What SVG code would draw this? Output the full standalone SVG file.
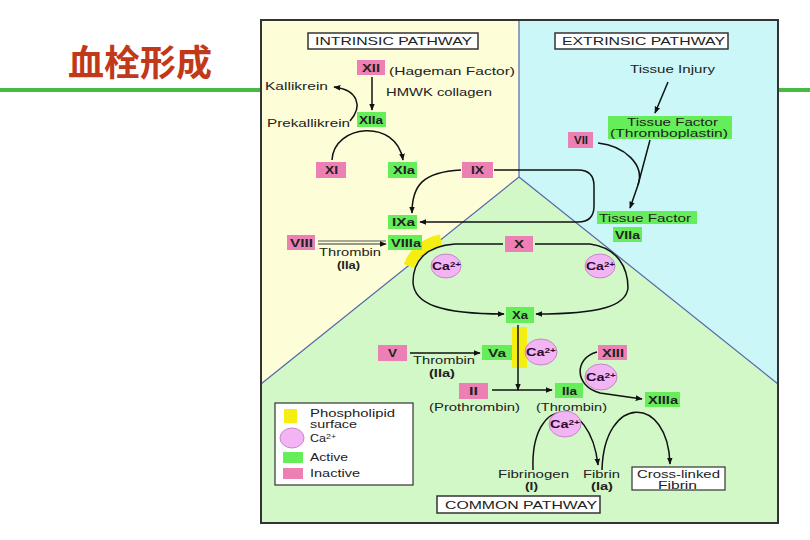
<svg xmlns="http://www.w3.org/2000/svg" width="810" height="540" viewBox="0 0 810 540">
<defs>
<marker id="ah" viewBox="0 0 10 10" refX="9" refY="5" markerWidth="7" markerHeight="7" orient="auto" markerUnits="userSpaceOnUse">
<path d="M0,1 L10,5 L0,9 Z" fill="#111"/>
</marker>
<style>
text{font-family:"Liberation Sans",Arial,sans-serif;font-size:11.5px;fill:#222}
.b{font-weight:bold}
.pk{fill:#ec80b4}
.gn{fill:#66ee5a}
.ca{fill:#f2b4f2;stroke:#c486c8;stroke-width:1}
.c{fill:none;stroke:#111;stroke-width:1.5}
.hdr{fill:#fff;stroke:#333;stroke-width:1.5}
.sup{font-size:8px}
.cat{font-weight:bold;font-size:11.5px;fill:#2a0a30}
</style>
</defs>
<rect width="810" height="540" fill="#fff"/>
<text x="68" y="76" textLength="144" lengthAdjust="spacingAndGlyphs" style="font-family:'Noto Sans CJK SC',sans-serif;font-size:36px;font-weight:bold;fill:#c2391a">血栓形成</text>
<line x1="0" y1="90" x2="262" y2="90" stroke="#45bb45" stroke-width="4"/>
<line x1="778" y1="90" x2="810" y2="90" stroke="#45bb45" stroke-width="4"/>

<g id="panel">
<polygon points="261,20 519,20 519,177 261,384" fill="#fdfdd8"/>
<polygon points="519,20 778,20 778,384 519,177" fill="#ccf7f9"/>
<polygon points="261,384 519,177 778,384 778,523 261,523" fill="#d2f8c8"/>
<polyline points="519,20 519,177 261,384" fill="none" stroke="#5566aa" stroke-width="1.2"/>
<line x1="519" y1="177" x2="778" y2="384" stroke="#5566aa" stroke-width="1.2"/>
<rect x="261" y="20" width="517" height="503" fill="none" stroke="#333" stroke-width="2"/>
</g>

<g id="phospholipid">
<path d="M409,266 C414,252 426,243 441,240" fill="none" stroke="#f5ee10" stroke-width="11"/>
<rect x="512" y="327" width="15" height="41" fill="#f5ee10"/>
</g>

<g id="connectors">
<line x1="372" y1="77" x2="372" y2="110" class="c" marker-end="url(#ah)"/>
<path d="M350,121 C363,106 358,90 334,87" class="c" marker-end="url(#ah)"/>
<path d="M332,160 C334,124 396,118 403,160" class="c" marker-end="url(#ah)"/>
<path d="M461,170 C422,172 412,186 412,213" class="c" marker-end="url(#ah)"/>
<path d="M494,170 L578,170 Q594,170 594,186 L594,206 Q594,222 578,222 L420,222" class="c" marker-end="url(#ah)"/>
<line x1="318" y1="241" x2="386" y2="241" stroke="#555" stroke-width="1.2"/>
<line x1="318" y1="244" x2="386" y2="244" stroke="#333" stroke-width="1.2" marker-end="url(#ah)"/>
<path d="M503,244 L455,244 C425,246 413,262 413,282 C414,304 440,314 504,314" class="c" marker-end="url(#ah)"/>
<path d="M535,244 L590,244 C618,248 628,268 628,288 C626,306 600,314 536,314" class="c" marker-end="url(#ah)"/>
<line x1="410" y1="353" x2="480" y2="353" class="c" marker-end="url(#ah)"/>
<line x1="518" y1="325" x2="518" y2="390" class="c" marker-end="url(#ah)"/>
<line x1="492" y1="390" x2="552" y2="390" class="c" marker-end="url(#ah)"/>
<path d="M597,352 C574,358 574,386 600,393 L642,399" class="c" marker-end="url(#ah)"/>
<path d="M533,470 C530,394 590,394 598,465" class="c" marker-end="url(#ah)"/>
<path d="M602,470 C604,394 668,394 670,464" class="c" marker-end="url(#ah)"/>
<line x1="668" y1="82" x2="655" y2="113" class="c" marker-end="url(#ah)"/>
<path d="M650,140 L638,185" class="c"/>
<path d="M598,143 C625,146 645,165 638,185 L630,208" class="c" marker-end="url(#ah)"/>
</g>

<g id="intrinsic-header"><rect x="308" y="33" width="170" height="16" class="hdr"/><text x="315" y="45" textLength="157" lengthAdjust="spacingAndGlyphs">INTRINSIC PATHWAY</text></g>
<g id="extrinsic-header"><rect x="555" y="33" width="173" height="16" class="hdr"/><text x="562" y="45" textLength="163" lengthAdjust="spacingAndGlyphs">EXTRINSIC PATHWAY</text></g>
<g id="common-header"><rect x="437" y="496" width="163" height="17" class="hdr"/><text x="445" y="509" textLength="152" lengthAdjust="spacingAndGlyphs">COMMON PATHWAY</text></g>

<g id="XII"><rect x="357" y="60" width="28" height="15" class="pk"/><text x="362" y="72" class="b" textLength="18" lengthAdjust="spacingAndGlyphs">XII</text><text x="389" y="75" textLength="126" lengthAdjust="spacingAndGlyphs">(Hageman Factor)</text></g>
<g id="HMWK"><text x="386" y="96" textLength="106" lengthAdjust="spacingAndGlyphs">HMWK collagen</text></g>
<g id="XIIa"><rect x="357" y="112" width="29" height="15" class="gn"/><text x="359" y="124" class="b" textLength="24" lengthAdjust="spacingAndGlyphs">XIIa</text></g>
<g id="Kallikrein"><text x="265" y="90" textLength="63" lengthAdjust="spacingAndGlyphs">Kallikrein</text></g>
<g id="Prekallikrein"><text x="267" y="127" textLength="83" lengthAdjust="spacingAndGlyphs">Prekallikrein</text></g>
<g id="XI"><rect x="316" y="162" width="30" height="16" class="pk"/><text x="325" y="174" class="b" textLength="13" lengthAdjust="spacingAndGlyphs">XI</text></g>
<g id="XIa"><rect x="388" y="162" width="29" height="16" class="gn"/><text x="393" y="174" class="b" textLength="22" lengthAdjust="spacingAndGlyphs">XIa</text></g>
<g id="IX"><rect x="462" y="162" width="31" height="16" class="pk"/><text x="471" y="174" class="b" textLength="13" lengthAdjust="spacingAndGlyphs">IX</text></g>
<g id="IXa"><rect x="388" y="215" width="29" height="14" class="gn"/><text x="392" y="226" class="b" textLength="23" lengthAdjust="spacingAndGlyphs">IXa</text></g>
<g id="VIIIa"><rect x="388" y="235" width="34" height="15" class="gn"/><text x="391" y="247" class="b" textLength="30" lengthAdjust="spacingAndGlyphs">VIIIa</text></g>
<g id="VIII"><rect x="287" y="235" width="28" height="15" class="pk"/><text x="290" y="247" class="b" textLength="23" lengthAdjust="spacingAndGlyphs">VIII</text></g>
<g id="thrombin1"><text x="319" y="256" textLength="62" lengthAdjust="spacingAndGlyphs">Thrombin</text><text x="337" y="269" class="b" textLength="23" lengthAdjust="spacingAndGlyphs">(IIa)</text></g>

<g id="X"><rect x="505" y="236" width="28" height="16" class="pk"/><text x="514" y="248" class="b" textLength="10" lengthAdjust="spacingAndGlyphs">X</text></g>
<g id="ca1"><ellipse cx="446" cy="266" rx="15" ry="12" class="ca"/><text x="432" y="270" class="cat" textLength="29" lengthAdjust="spacingAndGlyphs">Ca<tspan class="sup" dy="-3">2+</tspan></text></g>
<g id="ca2"><ellipse cx="600" cy="266" rx="15" ry="12" class="ca"/><text x="586" y="270" class="cat" textLength="29" lengthAdjust="spacingAndGlyphs">Ca<tspan class="sup" dy="-3">2+</tspan></text></g>
<g id="Xa"><rect x="506" y="307" width="28" height="16" class="gn"/><text x="512" y="319" class="b" textLength="16" lengthAdjust="spacingAndGlyphs">Xa</text></g>
<g id="V"><rect x="378" y="345" width="29" height="16" class="pk"/><text x="388" y="357" class="b" textLength="9" lengthAdjust="spacingAndGlyphs">V</text></g>
<g id="thrombin2"><text x="413" y="364" textLength="62" lengthAdjust="spacingAndGlyphs">Thrombin</text><text x="429" y="377" class="b" textLength="26" lengthAdjust="spacingAndGlyphs">(IIa)</text></g>
<g id="Va"><rect x="482" y="345" width="30" height="15" class="gn"/><text x="488" y="357" class="b" textLength="18" lengthAdjust="spacingAndGlyphs">Va</text></g>
<g id="ca3"><ellipse cx="541" cy="352" rx="16" ry="13" class="ca"/><text x="526" y="356" class="cat" textLength="30" lengthAdjust="spacingAndGlyphs">Ca<tspan class="sup" dy="-3">2+</tspan></text></g>
<g id="II"><rect x="459" y="383" width="29" height="16" class="pk"/><text x="469" y="395" class="b" textLength="9" lengthAdjust="spacingAndGlyphs">II</text><text x="429" y="411" textLength="91" lengthAdjust="spacingAndGlyphs">(Prothrombin)</text></g>
<g id="IIa"><rect x="555" y="383" width="28" height="15" class="gn"/><text x="562" y="395" class="b" textLength="15" lengthAdjust="spacingAndGlyphs">IIa</text><text x="536" y="411" textLength="71" lengthAdjust="spacingAndGlyphs">(Thrombin)</text></g>
<g id="XIII"><rect x="598" y="345" width="29" height="15" class="pk"/><text x="602" y="357" class="b" textLength="22" lengthAdjust="spacingAndGlyphs">XIII</text></g>
<g id="ca4"><ellipse cx="601" cy="377" rx="16" ry="13" class="ca"/><text x="586" y="381" class="cat" textLength="30" lengthAdjust="spacingAndGlyphs">Ca<tspan class="sup" dy="-3">2+</tspan></text></g>
<g id="XIIIa"><rect x="645" y="392" width="35" height="15" class="gn"/><text x="648" y="404" class="b" textLength="30" lengthAdjust="spacingAndGlyphs">XIIIa</text></g>
<g id="ca5"><ellipse cx="565" cy="424" rx="16" ry="13" class="ca"/><text x="550" y="428" class="cat" textLength="30" lengthAdjust="spacingAndGlyphs">Ca<tspan class="sup" dy="-3">2+</tspan></text></g>
<g id="Fibrinogen"><text x="498" y="478" textLength="71" lengthAdjust="spacingAndGlyphs">Fibrinogen</text><text x="525" y="490" class="b" textLength="13" lengthAdjust="spacingAndGlyphs">(I)</text></g>
<g id="Fibrin"><text x="583" y="478" textLength="37" lengthAdjust="spacingAndGlyphs">Fibrin</text><text x="591" y="490" class="b" textLength="22" lengthAdjust="spacingAndGlyphs">(Ia)</text></g>
<g id="CrossLinked"><rect x="632" y="467" width="93" height="23" fill="#fff" stroke="#333" stroke-width="1.2"/><text x="637" y="478" textLength="83" lengthAdjust="spacingAndGlyphs">Cross-linked</text><text x="658" y="489" textLength="39" lengthAdjust="spacingAndGlyphs">Fibrin</text></g>

<g id="TissueInjury"><text x="630" y="73" textLength="85" lengthAdjust="spacingAndGlyphs">Tissue Injury</text></g>
<g id="TissueFactor1"><rect x="608" y="116" width="124" height="23" class="gn"/><text x="627" y="126" textLength="91" lengthAdjust="spacingAndGlyphs">Tissue Factor</text><text x="610" y="137" textLength="118" lengthAdjust="spacingAndGlyphs">(Thromboplastin)</text></g>
<g id="VII"><rect x="568" y="132" width="25" height="16" class="pk"/><text x="574" y="144" class="b" textLength="14" lengthAdjust="spacingAndGlyphs">VII</text></g>
<g id="TissueFactor2"><rect x="597" y="211" width="100" height="13" class="gn"/><text x="599" y="222" textLength="92" lengthAdjust="spacingAndGlyphs">Tissue Factor</text></g>
<g id="VIIa"><rect x="613" y="227" width="29" height="15" class="gn"/><text x="615" y="239" class="b" textLength="25" lengthAdjust="spacingAndGlyphs">VIIa</text></g>

<g id="legend">
<rect x="275" y="403" width="138" height="82" fill="#fff" stroke="#333" stroke-width="1.2"/>
<rect x="284" y="409" width="13" height="14" fill="#f5ee10"/>
<text x="310" y="417" textLength="85" lengthAdjust="spacingAndGlyphs">Phospholipid</text><text x="310" y="428" textLength="47" lengthAdjust="spacingAndGlyphs">surface</text>
<ellipse cx="292" cy="438" rx="12" ry="10" class="ca"/>
<text x="310" y="442" textLength="26" lengthAdjust="spacingAndGlyphs">Ca<tspan class="sup" dy="-3">2+</tspan></text>
<rect x="283" y="452" width="20" height="11" class="gn"/><text x="310" y="461" textLength="38" lengthAdjust="spacingAndGlyphs">Active</text>
<rect x="283" y="468" width="20" height="11" class="pk"/><text x="310" y="477" textLength="50" lengthAdjust="spacingAndGlyphs">Inactive</text>
</g>
</svg>
